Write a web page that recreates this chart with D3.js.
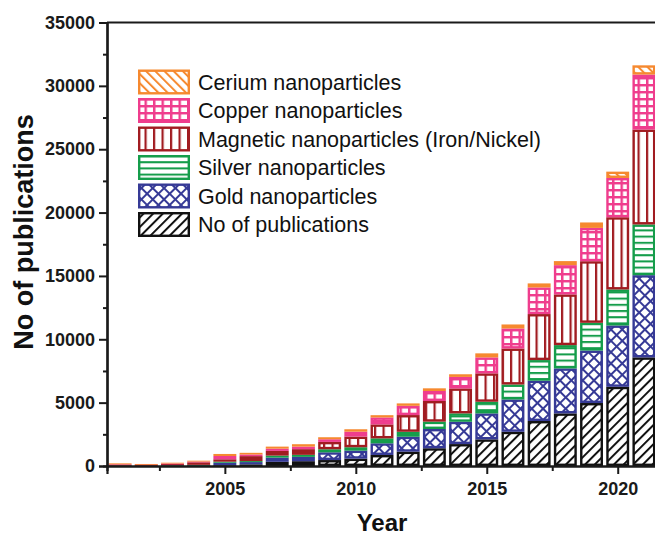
<!DOCTYPE html>
<html>
<head>
<meta charset="utf-8">
<script src="https://cdnjs.cloudflare.com/ajax/libs/d3/7.8.5/d3.min.js"></script>
<style>
  body { margin: 0; background: #fff; }
  text { font-family: "Liberation Sans", Arial, sans-serif; }
</style>
</head>
<body>
<div id="chart"></div>
<script>
var years    = [2001,2002,2003,2004,2005,2006,2007,2008,2009,2010,2011,2012,2013,2014,2015,2016,2017,2018,2019,2020,2021];
var pubs     = [10, 10, 20, 30, 60, 130, 330, 380, 470, 580, 870, 1130, 1400, 1730, 2100, 2700, 3550, 4150, 4970, 6250, 8570];
var gold     = [10, 10, 20, 40, 200, 180, 330, 340, 610, 630, 920, 1180, 1520, 1760, 2050, 2550, 3180, 3550, 4140, 4840, 6490];
var silver   = [10, 10, 10, 20, 80, 80, 160, 160, 240, 270, 390, 390, 580, 660, 920, 1180, 1630, 1840, 2190, 2840, 4000];
var magnetic = [70, 40, 110, 200, 190, 390, 370, 450, 580, 840, 1100, 1320, 1630, 1970, 2240, 2840, 3630, 4000, 4860, 5700, 7490];
var copper   = [30, 70, 40, 60, 260, 130, 180, 200, 210, 390, 550, 730, 790, 910, 1260, 1580, 2100, 2310, 2630, 3100, 4340];
var cerium   = [80, 20, 60, 70, 160, 130, 160, 190, 160, 190, 180, 190, 210, 210, 320, 320, 320, 320, 430, 500, 730];

var keys   = ["pubs", "gold", "silver", "magnetic", "copper", "cerium"];
var labels = ["No of publications", "Gold nanoparticles", "Silver nanoparticles",
              "Magnetic nanoparticles (Iron/Nickel)", "Copper nanoparticles", "Cerium nanoparticles"];
var colors = ["#111111", "#363a96", "#159d4b", "#a11c21", "#ef3d8d", "#f6892f"];

var yTicks = [0, 5000, 10000, 15000, 20000, 25000, 30000, 35000];
var xTicks = [2005, 2010, 2015, 2020];

var table = years.map(function(yr, i) {
  return {year: yr, pubs: pubs[i], gold: gold[i], silver: silver[i],
          magnetic: magnetic[i], copper: copper[i], cerium: cerium[i]};
});

var W = 655, H = 537;
var mLeft = 107, mTop = 22.5, mBottom = 466, mRight = 657;

var svg = d3.select("#chart").append("svg")
  .attr("width", W).attr("height", H);

var x = d3.scaleLinear().domain([2000.5, 2021.5]).range([mLeft, mRight]);
var y = d3.scaleLinear().domain([0, 35000]).range([mBottom, mTop]);

// hatch patterns
var defs = svg.append("defs");
function pat(id, w, h, rot) {
  var p = defs.append("pattern").attr("id", id)
    .attr("patternUnits", "userSpaceOnUse")
    .attr("width", w).attr("height", h);
  if (rot) p.attr("patternTransform", "rotate(" + rot + ")");
  p.append("rect").attr("width", w).attr("height", h).attr("fill", "#fff");
  return p;
}
// black diagonal "/"
pat("p-pubs", 6.8, 6.8, 45).append("line").attr("x1", 1).attr("x2", 1).attr("y1", 0).attr("y2", 6.8)
  .attr("stroke", colors[0]).attr("stroke-width", 2);
// gold crosshatch
var pg = pat("p-gold", 8, 8, 45);
pg.append("line").attr("x1", 1).attr("x2", 1).attr("y1", 0).attr("y2", 8).attr("stroke", colors[1]).attr("stroke-width", 2);
pg.append("line").attr("x1", 0).attr("x2", 8).attr("y1", 1).attr("y2", 1).attr("stroke", colors[1]).attr("stroke-width", 2);
// silver horizontal
pat("p-silver", 6, 6.2, 0).append("line").attr("x1", 0).attr("x2", 6).attr("y1", 1).attr("y2", 1)
  .attr("stroke", colors[2]).attr("stroke-width", 2.1);
// magnetic vertical
pat("p-magnetic", 8.5, 6, 0).append("line").attr("x1", 1).attr("x2", 1).attr("y1", 0).attr("y2", 6)
  .attr("stroke", colors[3]).attr("stroke-width", 2.4);
// copper grid
var pc = pat("p-copper", 8.5, 7, 0);
pc.append("line").attr("x1", 1.2).attr("x2", 1.2).attr("y1", 0).attr("y2", 7).attr("stroke", colors[4]).attr("stroke-width", 2.5);
pc.append("line").attr("x1", 0).attr("x2", 8.5).attr("y1", 1.2).attr("y2", 1.2).attr("stroke", colors[4]).attr("stroke-width", 2.5);
// cerium diagonal "\"
pat("p-cerium", 6.5, 6.5, -45).append("line").attr("x1", 1).attr("x2", 1).attr("y1", 0).attr("y2", 6.5)
  .attr("stroke", colors[5]).attr("stroke-width", 2);

var stacked = d3.stack().keys(keys)(table);
var bw = (x(1) - x(0)) * 0.875;
var sw = 2.4;

function segH(d) { return y(d[0]) - y(d[1]); }

var plot = svg.append("g");
stacked.forEach(function(layer, k) {
  var segs = plot.selectAll(".s" + k)
    .data(layer)
    .enter()
    .append("rect")
      .attr("class", "s" + k);
  // thin segments: solid band of the series colour
  segs.filter(function(d) { return segH(d) <= 2 * sw + 1; })
      .attr("x", function(d) { return x(d.data.year) - bw / 2; })
      .attr("y", function(d) { return y(d[1]); })
      .attr("width", bw)
      .attr("height", function(d) { return Math.max(0.8, segH(d)); })
      .attr("fill", colors[k]);
  // larger segments: outlined + hatched
  segs.filter(function(d) { return segH(d) > 2 * sw + 1; })
      .attr("x", function(d) { return x(d.data.year) - bw / 2 + sw / 2; })
      .attr("y", function(d) { return y(d[1]) + sw / 2; })
      .attr("width", bw - sw)
      .attr("height", function(d) { return segH(d) - sw; })
      .attr("fill", "url(#p-" + keys[k] + ")")
      .attr("stroke", colors[k])
      .attr("stroke-width", sw);
});

// axes
svg.append("g").attr("transform", "translate(" + mLeft + ",0)")
  .call(d3.axisLeft(y).tickValues(yTicks).tickFormat(d3.format("d")).tickSize(8).tickPadding(4));
svg.append("g").attr("transform", "translate(" + mLeft + ",0)")
  .call(d3.axisLeft(y).tickValues([2500, 7500, 12500, 17500, 22500, 27500, 32500]).tickSize(4).tickFormat(""));
svg.append("g").attr("transform", "translate(0," + mBottom + ")")
  .call(d3.axisBottom(x).tickValues(xTicks).tickFormat(d3.format("d")).tickSize(8).tickPadding(8));
svg.append("g").attr("transform", "translate(0," + mBottom + ")")
  .call(d3.axisBottom(x).tickValues([2002.5, 2007.5, 2012.5, 2017.5]).tickSize(5).tickFormat(""));

svg.selectAll(".domain").attr("stroke", "#1a1a1a").attr("stroke-width", 2.2);
svg.selectAll(".tick line").attr("stroke", "#1a1a1a").attr("stroke-width", 2);
svg.selectAll(".tick text").attr("font-size", 18).attr("font-weight", "bold")
  .attr("font-family", "'Liberation Sans', Arial, sans-serif").attr("fill", "#1a1a1a");

// top frame line
svg.append("line").attr("x1", mLeft).attr("x2", W).attr("y1", mTop).attr("y2", mTop)
  .attr("stroke", "#1a1a1a").attr("stroke-width", 2.2);

// axis titles
svg.append("text")
  .attr("transform", "translate(33," + 232 + ")rotate(-90)")
  .style("text-anchor", "middle")
  .attr("font-size", 27).attr("font-weight", "bold").attr("fill", "#111")
  .text("No of publications");
svg.append("text")
  .attr("x", 382).attr("y", 531)
  .style("text-anchor", "middle")
  .attr("font-size", 24).attr("font-weight", "bold").attr("fill", "#111")
  .text("Year");

// legend (top to bottom: cerium ... pubs)
var legend = svg.append("g");
var order = [5, 4, 3, 2, 1, 0];
order.forEach(function(k, i) {
  var ly = 69.5 + i * 28.5;
  legend.append("rect")
    .attr("x", 138 + 1.2).attr("y", ly + 1.2)
    .attr("width", 52 - 2.4).attr("height", 25 - 2.4)
    .attr("fill", "url(#p-" + keys[k] + ")")
    .attr("stroke", colors[k]).attr("stroke-width", 2.4);
  legend.append("text")
    .attr("x", 198).attr("y", ly + 12.5)
    .attr("dy", "0.36em")
    .attr("font-size", 21.5).attr("fill", "#111")
    .text(labels[k]);
});
</script>
</body>
</html>
